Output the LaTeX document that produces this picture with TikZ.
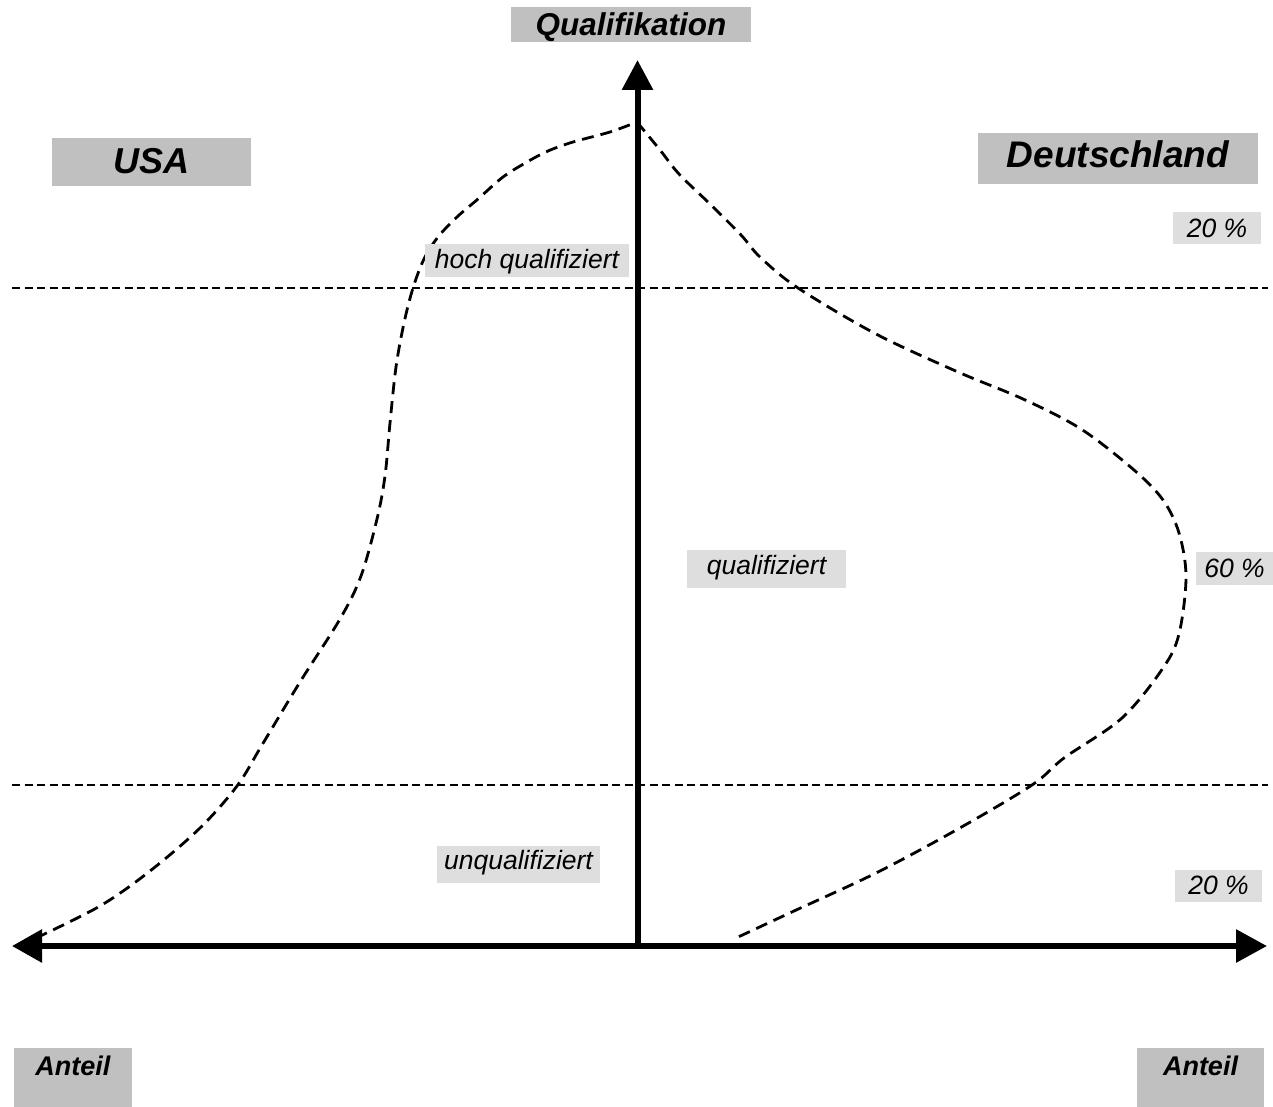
\documentclass[tikz,border=0pt]{standalone}
\usepackage{fontspec}
\setmainfont{Liberation Sans}
\usetikzlibrary{arrows.meta}
\definecolor{bigboxc}{RGB}{192,192,192}
\definecolor{smallboxc}{RGB}{222,222,222}
\begin{document}
\begin{tikzpicture}[x=1pt,y=-1pt,
  bigbox/.style={fill=bigboxc, inner sep=0pt, text depth=0pt},
  lblbox/.style={fill=smallboxc, inner sep=0pt, font=\fontsize{26.5}{30}\selectfont\itshape, text height=19pt, text depth=0pt},
  axisline/.style={line width=6pt},
  guide/.style={line width=1.4pt, dash pattern=on 8pt off 4.5pt},
  curve/.style={line width=2.8pt, dash pattern=on 12pt off 7pt}]
\useasboundingbox (0,0) rectangle (1273,1107);
% coordinates
\coordinate (L) at (12,946);
\coordinate (R) at (1267,946);
\coordinate (O) at (637.5,949);
\coordinate (T) at (637.5,60);
\coordinate (g1l) at (12,288);
\coordinate (g1r) at (1268,288);
\coordinate (g2l) at (12,785);
\coordinate (g2r) at (1268,785);
% guide lines
\draw[guide] (g1l) -- (g1r);
\draw[guide] (g2l) -- (g2r);
% USA curve
\draw[curve] plot[smooth, tension=0.55] coordinates {
 (36,938) (100,906) (150,871) (200,828) (237,786) (262,745) (300,682) (340,619)
 (361,576) (377,519) (385,476) (390,423) (396,367) (404,323) (413,288) (424,259)
 (438,237) (457,217) (478,199) (503,177) (527,162) (548,151) (573,142) (610,132) (637,122)};
% Deutschland curve
\draw[curve] plot[smooth, tension=0.55] coordinates {
 (637,122) (660,150) (679,174) (710,204) (741,235) (760,257) (798,288) (876,334)
 (958,372) (1023,399) (1081,429) (1134,470) (1163,500) (1179,533) (1186,577)
 (1179,634) (1163,668) (1122,718) (1064,758) (1032,785) (958,829) (876,873)
 (794,911) (736,938)};
% axes
\draw[axisline, {Triangle[length=30pt,width=32pt]}-{Triangle[length=31pt,width=32pt]}] (L) -- (R);
\draw[axisline, -{Triangle[length=30pt,width=30pt]}] (O) -- (T);
% big labels
\node[bigbox, minimum width=240pt, minimum height=35pt, font=\fontsize{31.5}{36}\selectfont\bfseries\itshape, text height=22pt, text depth=0pt] (qual) at (631,24.5) {Qualifikation};
\node[bigbox, minimum width=199pt, minimum height=48pt, font=\fontsize{36}{40}\selectfont\bfseries\itshape, text height=25.8pt, text depth=2pt] (usa) at (151.5,162) {USA};
\node[bigbox, minimum width=280pt, minimum height=51pt, font=\fontsize{37}{42}\selectfont\bfseries\itshape, text height=26.5pt, text depth=9pt] (de) at (1118,158.5) {Deutschland};
\node[bigbox, minimum width=118pt, minimum height=59pt, font=\fontsize{27}{30}\selectfont\bfseries\itshape, text height=19pt, text depth=24pt] (al) at (73,1077.5) {Anteil};
\node[bigbox, minimum width=127pt, minimum height=59pt, font=\fontsize{27}{30}\selectfont\bfseries\itshape, text height=19pt, text depth=24pt] (ar) at (1200.5,1077.5) {Anteil};
% small labels
\node[lblbox, minimum width=88pt, minimum height=32pt] (p1) at (1217,228) {20 \%};
\node[lblbox, minimum width=204pt, minimum height=33pt, text depth=3pt] (hq) at (527,260.5) {hoch qualifiziert};
\node[lblbox, minimum width=159pt, minimum height=38pt, text depth=8pt] (q) at (766.5,569) {qualifiziert};
\node[lblbox, minimum width=77pt, minimum height=33pt, text depth=1pt] (p2) at (1234.5,568.5) {60 \%};
\node[lblbox, minimum width=163pt, minimum height=37pt, text depth=9pt] (uq) at (518.5,864.5) {unqualifiziert};
\node[lblbox, minimum width=87pt, minimum height=32pt, text depth=2pt] (p3) at (1218.5,886) {20 \%};
\end{tikzpicture}
\end{document}
